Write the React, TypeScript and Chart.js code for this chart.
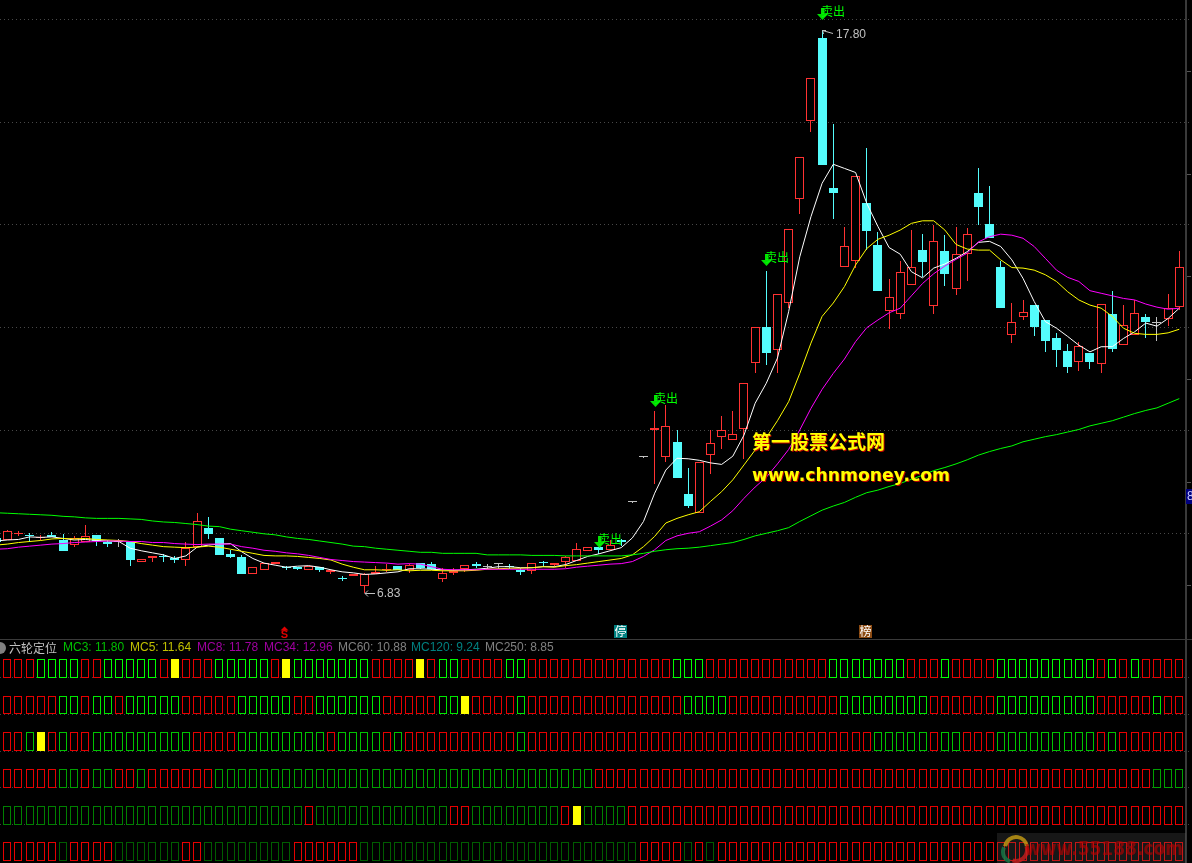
import React, { useEffect, useRef } from "react";
import { Chart, registerables } from "chart.js";

Chart.register(...registerables);

// Candles. Position 0 is the candle that is cut off by the left edge.
const opens = [7.90,
  7.87,7.98,7.97,7.91,7.96,7.87,7.78,7.83,7.97,7.84,
  7.84,7.84,7.44,7.51,7.54,7.51,7.49,7.73,8.10,7.91,
  7.60,7.54,7.21,7.29,7.41,7.35,7.34,7.29,7.34,7.25,
  7.13,7.16,6.98,7.21,7.29,7.36,7.29,7.42,7.40,7.12,
  7.22,7.31,7.40,7.35,7.40,7.36,7.29,7.27,7.44,7.39,
  7.45,7.47,7.66,7.73,7.68,7.86,8.60,9.48,10.00,9.49,
  9.78,8.77,8.40,9.53,9.88,9.82,10.02,11.31,12.01,11.56,
  12.49,14.50,16.02,17.64,14.71,13.18,13.29,14.43,13.60,12.32,
  12.26,12.84,13.51,12.42,13.49,12.75,13.43,14.62,14.02,13.18,
  11.86,12.20,12.44,12.15,11.80,11.55,11.33,11.51,11.29,12.27,
  11.66,11.86,12.20,12.10,12.16,12.40];
const closes = [7.84,
  8.04,8.01,7.95,7.92,7.92,7.65,7.90,7.94,7.85,7.80,
  7.84,7.48,7.50,7.55,7.53,7.49,7.71,8.23,7.99,7.58,
  7.54,7.21,7.34,7.42,7.44,7.32,7.31,7.36,7.29,7.29,
  7.12,7.21,7.21,7.24,7.31,7.28,7.38,7.33,7.31,7.22,
  7.27,7.38,7.37,7.35,7.40,7.35,7.25,7.42,7.42,7.42,
  7.53,7.69,7.73,7.68,7.77,7.84,8.60,9.48,10.04,10.08,
  9.08,8.53,9.38,9.75,10.00,9.93,10.92,12.01,11.51,12.65,
  13.93,15.32,16.85,15.17,14.63,13.58,14.95,13.89,12.72,12.59,
  13.08,13.19,13.27,13.68,13.05,13.43,13.82,14.35,13.75,12.39,
  12.12,12.30,12.02,11.75,11.57,11.24,11.64,11.34,12.46,11.59,
  12.05,12.28,12.12,12.10,12.39,13.18];
const highs = [7.95,
  8.06,8.05,8.00,7.97,8.02,7.99,7.94,8.16,7.97,7.87,
  7.89,7.84,7.50,7.55,7.59,7.56,7.83,8.39,8.31,7.91,
  7.67,7.58,7.34,7.42,7.44,7.36,7.34,7.36,7.34,7.29,
  7.17,7.21,7.23,7.36,7.40,7.36,7.40,7.43,7.44,7.32,
  7.33,7.38,7.44,7.40,7.40,7.40,7.32,7.42,7.46,7.43,
  7.56,7.81,7.73,7.73,7.87,7.88,8.60,9.48,10.38,10.50,
  10.01,9.28,9.38,10.01,10.28,10.38,10.92,12.01,13.10,12.65,
  13.93,15.32,16.85,17.80,15.96,13.95,14.95,15.50,13.86,12.95,
  13.30,13.90,13.82,14.00,13.80,13.95,13.94,15.11,14.76,13.30,
  12.48,12.54,12.44,12.15,11.89,11.68,11.72,11.51,12.46,12.71,
  12.44,12.54,12.27,12.20,12.65,13.49];
const lows = [7.80,
  7.87,7.95,7.84,7.86,7.92,7.65,7.73,7.83,7.75,7.73,
  7.73,7.36,7.44,7.44,7.45,7.42,7.36,7.73,7.89,7.58,
  7.51,7.21,7.21,7.29,7.41,7.29,7.29,7.29,7.25,7.21,
  7.07,7.16,6.83,7.21,7.25,7.28,7.23,7.31,7.29,7.06,
  7.18,7.25,7.33,7.30,7.31,7.31,7.18,7.21,7.35,7.36,
  7.32,7.47,7.65,7.60,7.68,7.75,8.60,9.48,8.96,9.39,
  9.08,8.49,8.40,9.15,9.64,9.82,9.45,11.11,11.28,11.11,
  12.38,14.22,15.81,15.17,14.12,13.18,13.16,13.51,12.72,11.97,
  12.17,12.84,12.98,12.27,12.81,12.63,12.91,13.99,13.75,12.39,
  11.71,12.15,11.83,11.53,11.24,11.11,11.15,11.20,11.11,11.53,
  11.66,11.85,11.79,11.75,12.04,12.35];

// Moving averages
const maWhite = [7.85,
  7.87,7.88,7.93,7.92,7.93,7.90,7.87,7.88,7.86,7.85,
  7.84,7.71,7.66,7.62,7.58,7.51,7.56,7.73,7.77,7.79,
  7.80,7.64,7.51,7.42,7.38,7.34,7.36,7.37,7.34,7.29,
  7.25,7.23,7.20,7.21,7.23,7.25,7.31,7.31,7.30,7.29,
  7.28,7.29,7.30,7.32,7.35,7.35,7.33,7.33,7.35,7.35,
  7.39,7.47,7.55,7.60,7.66,7.72,7.91,8.23,8.78,9.23,
  9.46,9.45,9.42,9.37,9.34,9.50,9.91,10.53,10.92,11.41,
  12.31,13.38,14.16,14.81,15.18,15.10,15.02,14.42,13.97,13.56,
  13.43,13.09,12.97,13.16,13.24,13.35,13.48,13.66,13.68,13.58,
  13.32,12.96,12.51,12.12,11.99,11.83,11.66,11.53,11.63,11.63,
  11.79,11.92,12.09,12.03,12.18,12.38];
const maYellow = [7.77,
  7.79,7.82,7.84,7.86,7.89,7.90,7.89,7.90,7.88,7.87,
  7.86,7.84,7.80,7.77,7.74,7.73,7.72,7.73,7.75,7.73,
  7.69,7.65,7.61,7.57,7.56,7.56,7.55,7.53,7.51,7.48,
  7.40,7.34,7.29,7.29,7.28,7.29,7.27,7.28,7.28,7.27,
  7.27,7.27,7.28,7.30,7.31,7.32,7.32,7.33,7.35,7.34,
  7.37,7.39,7.42,7.45,7.48,7.51,7.58,7.74,7.94,8.20,
  8.29,8.36,8.42,8.62,8.81,9.04,9.33,9.62,9.86,10.19,
  10.56,11.11,11.70,12.22,12.48,12.80,13.22,13.54,13.72,13.80,
  13.90,14.03,14.08,14.08,13.90,13.62,13.53,13.51,13.51,13.32,
  13.17,13.16,13.12,13.03,12.90,12.70,12.54,12.44,12.38,12.22,
  11.99,11.89,11.87,11.87,11.90,11.97];
const maMagenta = [7.69,
  7.70,7.73,7.75,7.77,7.79,7.80,7.82,7.83,7.84,7.85,
  7.85,7.84,7.84,7.82,7.82,7.80,7.79,7.78,7.79,7.79,
  7.79,7.74,7.71,7.67,7.65,7.62,7.60,7.57,7.53,7.49,
  7.47,7.45,7.44,7.43,7.42,7.40,7.41,7.40,7.35,7.30,
  7.29,7.29,7.29,7.30,7.30,7.30,7.30,7.30,7.30,7.30,
  7.31,7.34,7.36,7.38,7.40,7.41,7.45,7.55,7.68,7.86,
  7.95,8.00,8.03,8.14,8.26,8.44,8.68,8.90,9.09,9.35,
  9.63,10.01,10.43,10.80,11.11,11.39,11.73,12.00,12.15,12.29,
  12.38,12.62,12.86,13.05,13.20,13.33,13.45,13.67,13.77,13.82,
  13.80,13.74,13.58,13.35,13.12,12.98,12.90,12.72,12.67,12.62,
  12.57,12.54,12.46,12.40,12.36,12.38];
const maGreen = [8.40,
  8.39,8.38,8.37,8.36,8.35,8.33,8.32,8.30,8.29,8.29,
  8.29,8.28,8.27,8.24,8.22,8.21,8.19,8.17,8.14,8.13,
  8.08,8.05,8.02,7.99,7.97,7.93,7.90,7.88,7.85,7.82,
  7.79,7.75,7.74,7.71,7.69,7.67,7.65,7.63,7.63,7.61,
  7.61,7.61,7.61,7.58,7.58,7.58,7.58,7.57,7.57,7.57,
  7.56,7.56,7.56,7.56,7.56,7.56,7.58,7.61,7.65,7.68,
  7.70,7.71,7.73,7.76,7.79,7.82,7.88,7.95,8.00,8.05,
  8.11,8.23,8.34,8.45,8.53,8.60,8.70,8.79,8.84,8.91,
  8.97,9.05,9.13,9.22,9.28,9.35,9.43,9.52,9.59,9.65,
  9.70,9.78,9.83,9.88,9.92,9.97,10.02,10.09,10.14,10.19,
  10.26,10.33,10.39,10.44,10.53,10.62];

// Signal rows: r = red box, g = green box, Y = solid yellow box
const signalRow1 = "rrrggggrrgggggrYrrrgggggrYgggggggrrr" + "rYrggrrrrggrrrrrrrrrrrrrgggrrrrrrrr" + "rrrgggggggrrrgrrrrgggggggggrgrgrrrr";
const signalRow2 = "rrrrrggrggrgggggrrrrrgggggrrggggggrr" + "rrrggYrrrrgrrrrrrrrrrrrrrggggrrrrrr" + "rrrrggggggggrrrrrrgggggggggrrrrrgrr";
const signalRow3 = "rrgYrgrrgggggggggrrrrggggggggrggggrg" + "rrrrrrrrrrgrrrrrrrrrrrrrrrrrrrrrrrr" + "rrrrrrrgggggrggrrrgggggggggrgrrrrrr";
const signalRow4 = "rrrrrggrggrrgrrrrrrggggggggggggggggg" + "gggggggggggggggggrrrrrrrrrrrrrrrrrr" + "rrrrrrrrrrrrrrrrrrrrrrrrrrrrrrrrggg";
const signalRow5 = "gggggggggggggggggggggggggggrgggggggg" + "ggggrrggggggggrYggggrrrrrrrrrrrrrrr" + "rrrrrrrrrrrrrrrrrrrrrrrrrrrrrrrrrrr";
const signalRow6 = "rrrrrgrrrrggggggrrggggggggrrrrrrgggg" + "gggggggggggggggggggggrrrrgrgrrrrrrr" + "rrrrrrrrrrrrrrrrrrrrrrrrrrrrrrrrrrr";
const signalRows = [signalRow1, signalRow2, signalRow3, signalRow4, signalRow5, signalRow6];
const rowGreens = ["#00ff00", "#00e800", "#00c400", "#00a000", "#008000", "#005c00"];

const priceTicks = [8, 10, 12, 14, 16, 18];
const priceMinorTicks = [7, 9, 11, 13, 15, 17];
const rowTicks = [2, 3, 4, 5, 6];
const sellPositions = [54, 59, 69, 74];
const sellLabelGaps = [8, 13, 14, 19];
const sellLabel = "卖出";
const highPosition = 74;
const highLabel = "17.80";
const lowPosition = 33;
const lowLabel = "6.83";
const title = "六轮定位";
const legendTexts = ["MC3: 11.80", "MC5: 11.64", "MC8: 11.78", "MC34: 12.96", "MC60: 10.88", "MC120: 9.24", "MC250: 8.85"];
const legendColors = ["#00c000", "#c0c000", "#a000a0", "#a000a0", "#808080", "#008080", "#808080"];
const legendLefts = [63, 130, 197, 264, 338, 411, 485];

const RED = "#ff3232";
const CYAN = "#54fcfc";
const GRAY = "#c0c0c0";

const candleColor = (k: number) =>
  closes[k] > opens[k] ? RED : closes[k] < opens[k] ? CYAN : GRAY;

const sans = '"Liberation Sans", "Noto Sans CJK SC", sans-serif';
const cjk = '"Noto Sans CJK SC", sans-serif';

const decoration = {
  id: "decoration",
  beforeDatasetsDraw(chart: any) {
    // keep the bars on whole pixels, like the original terminal does
    chart.getSortedVisibleDatasetMetas().forEach((meta: any) => {
      if (meta.type !== "bar") return;
      meta.data.forEach((el: any) => {
        const odd = Math.round(el.width) % 2 === 1;
        el.x = odd ? Math.round(el.x - 0.5) + 0.5 : Math.round(el.x);
        el.y = Math.round(el.y);
        el.base = Math.round(el.base);
        if (el.y === el.base) el.base = el.y + 1;
      });
    });
  },
  afterDatasetsDraw(chart: any) {
    const { ctx, scales } = chart;
    const x = scales.x;
    const y = scales.y;
    ctx.save();

    // panel frame
    ctx.fillStyle = "#3a3a3a";
    ctx.fillRect(0, 639, 1192, 1);
    ctx.fillStyle = "#3a3a3a";
    ctx.fillRect(1185, 0, 2, 863);
    ctx.fillStyle = "#555555";
    priceMinorTicks.forEach((v) => ctx.fillRect(1187, Math.round(y.getPixelForValue(v)), 4, 1));

    // header
    ctx.textBaseline = "middle";
    ctx.textAlign = "left";
    ctx.fillStyle = "#808080";
    ctx.beginPath();
    ctx.arc(0, 648, 6, 0, Math.PI * 2);
    ctx.fill();
    ctx.fillStyle = "#c0c0c0";
    ctx.font = "12px " + cjk;
    ctx.fillText(title, 9, 648);
    ctx.font = "12px " + sans;
    legendTexts.forEach((t, i) => {
      ctx.fillStyle = legendColors[i];
      ctx.fillText(t, legendLefts[i], 648);
    });

    // sell arrows
    sellPositions.forEach((k, i) => {
      const px = Math.round(x.getPixelForValue(k));
      const mid = Math.round(y.getPixelForValue(highs[k])) - sellLabelGaps[i];
      ctx.fillStyle = "#00e000";
      ctx.fillRect(px - 1, mid - 3, 3, 7);
      ctx.beginPath();
      ctx.moveTo(px - 5, mid + 3);
      ctx.lineTo(px + 6, mid + 3);
      ctx.lineTo(px + 0.5, mid + 9);
      ctx.closePath();
      ctx.fill();
      ctx.fillStyle = "#00ff00";
      ctx.font = "12px " + cjk;
      ctx.fillText(sellLabel, px - 1, mid);
    });

    // high and low notes
    ctx.strokeStyle = "#c0c0c0";
    ctx.fillStyle = "#c0c0c0";
    ctx.lineWidth = 1;
    const hx = Math.round(x.getPixelForValue(highPosition));
    const hy = Math.round(y.getPixelForValue(highs[highPosition]));
    ctx.beginPath();
    ctx.moveTo(hx + 0.5, hy + 0.5);
    ctx.lineTo(hx + 11, hy + 3.5);
    ctx.moveTo(hx + 0.5, hy + 0.5);
    ctx.lineTo(hx + 4, hy + 0.5);
    ctx.moveTo(hx + 0.5, hy + 0.5);
    ctx.lineTo(hx + 1.5, hy + 4);
    ctx.stroke();
    ctx.font = "12px " + sans;
    ctx.fillText(highLabel, hx + 14, hy + 5);
    const lx = Math.round(x.getPixelForValue(lowPosition));
    const ly = Math.round(y.getPixelForValue(lows[lowPosition]));
    ctx.beginPath();
    ctx.moveTo(lx + 1, ly + 0.5);
    ctx.lineTo(lx + 11, ly + 0.5);
    ctx.moveTo(lx + 1, ly + 0.5);
    ctx.lineTo(lx + 4, ly - 2.5);
    ctx.moveTo(lx + 1, ly + 0.5);
    ctx.lineTo(lx + 4, ly + 3.5);
    ctx.stroke();
    ctx.fillText(lowLabel, lx + 13, ly + 1);

    // event marks above the separator
    ctx.fillStyle = "#e00000";
    ctx.beginPath();
    ctx.moveTo(284.5, 626.5);
    ctx.lineTo(280.5, 630.5);
    ctx.lineTo(288.5, 630.5);
    ctx.closePath();
    ctx.fill();
    ctx.textAlign = "center";
    ctx.font = "bold 11px " + sans;
    ctx.fillText("S", 284.5, 635);
    ctx.fillStyle = "#008080";
    ctx.fillRect(614, 625, 13, 13);
    ctx.fillStyle = "#8b4a12";
    ctx.fillRect(859, 625, 13, 13);
    ctx.fillStyle = "#ffffff";
    ctx.font = "12px " + cjk;
    ctx.fillText("停", 620.5, 631.5);
    ctx.fillText("榜", 865.5, 631.5);
    ctx.textAlign = "left";

    // scale flag
    ctx.fillStyle = "#000080";
    ctx.fillRect(1186, 489, 6, 15);
    ctx.fillStyle = "#c8c8ff";
    ctx.font = "12px " + sans;
    ctx.fillText("8", 1187, 497);

    // yellow site name
    const drawShadowed = (t: string, px: number, py: number, font: string, w: number) => {
      ctx.font = font;
      ctx.fillStyle = "#c00000";
      ctx.fillText(t, px + 1, py + 1, w);
      ctx.fillStyle = "#ffff00";
      ctx.fillText(t, px, py, w);
    };
    drawShadowed("第一股票公式网", 752, 442, "bold 19px " + cjk, 134);
    drawShadowed("www.chnmoney.com", 752, 477, 'bold 17.3px "DejaVu Sans"', 198);

    // corner watermark
    ctx.fillStyle = "rgba(90,90,90,0.25)";
    ctx.fillRect(997, 833, 189, 30);
    ctx.lineWidth = 4;
    ctx.strokeStyle = "rgba(190,150,20,0.85)";
    ctx.beginPath();
    ctx.arc(1016, 848, 11, Math.PI * 1.05, Math.PI * 1.95);
    ctx.stroke();
    ctx.strokeStyle = "rgba(200,30,30,0.8)";
    ctx.beginPath();
    ctx.arc(1016, 850, 11, -0.3, Math.PI * 0.6);
    ctx.stroke();
    ctx.strokeStyle = "rgba(20,120,70,0.85)";
    ctx.beginPath();
    ctx.arc(1013, 852, 10, Math.PI * 0.6, Math.PI * 1.15);
    ctx.stroke();
    ctx.fillStyle = "rgba(190,0,0,0.6)";
    ctx.font = 'bold 20px "DejaVu Sans"';
    ctx.fillText("www.55188.com", 1025, 850, 158);

    ctx.restore();
  },
};

export default function App() {
  const ref = useRef<HTMLCanvasElement>(null);

  useEffect(() => {
    document.body.style.margin = "0";
    document.body.style.background = "#000";
    const at = (values: number[]) => values.map((v, k) => ({ x: k, y: v }));
    const lineSet = (values: number[], color: string) => ({
      type: "line",
      data: at(values),
      borderColor: color,
      borderWidth: 1,
      pointRadius: 0,
      tension: 0,
      order: 0,
      yAxisID: "y",
    });
    const barBase = { grouped: false, inflateAmount: 0, borderSkipped: false, clip: false };

    const signalSets = signalRows.map((row, r) => {
      const level = 6 - r;
      const codes = row.split("");
      return {
        ...barBase,
        type: "bar",
        yAxisID: "y2",
        order: 3,
        barThickness: 8,
        borderWidth: 1,
        data: codes.map((_, i) => ({ x: i + 1, y: [level, level + 0.51] })),
        borderColor: codes.map((c) => (c === "g" ? rowGreens[r] : c === "Y" ? "#ffff00" : "#e60000")),
        backgroundColor: codes.map((c) => (c === "Y" ? "#ffff00" : "#000000")),
      };
    });

    const chart = new Chart(ref.current as HTMLCanvasElement, {
      data: {
        datasets: [
          lineSet(maGreen, "#00ff00"),
          lineSet(maMagenta, "#ff00ff"),
          lineSet(maYellow, "#ffff00"),
          lineSet(maWhite, "#ffffff"),
          {
            ...barBase,
            type: "bar",
            yAxisID: "y",
            order: 1,
            barThickness: 9,
            minBarLength: 1,
            borderWidth: 1,
            data: opens.map((o, k) => ({ x: k, y: [Math.min(o, closes[k]), Math.max(o, closes[k])] })),
            borderColor: opens.map((_, k) => candleColor(k)),
            backgroundColor: opens.map((_, k) => (closes[k] > opens[k] ? "#000000" : candleColor(k))),
          },
          {
            ...barBase,
            type: "bar",
            yAxisID: "y",
            order: 2,
            barThickness: 1,
            borderWidth: 0,
            data: lows.map((l, k) => ({ x: k, y: [l, highs[k]] })),
            backgroundColor: opens.map((_, k) => candleColor(k)),
          },
          ...signalSets,
        ] as any,
      },
      options: {
        responsive: false,
        animation: false,
        devicePixelRatio: 1,
        events: [],
        layout: { padding: 0 },
        plugins: { legend: { display: false }, tooltip: { enabled: false } },
        scales: {
          x: { type: "linear", display: false, offset: false, min: 0.346, max: 107.14 },
          y: {
            type: "linear",
            position: "left",
            min: 1.585,
            max: 18.376,
            border: { display: false, dash: [1, 3] },
            ticks: { display: false },
            grid: { color: "#484848", lineWidth: 1, drawTicks: false } as any,
            afterBuildTicks: (s: any) => {
              s.ticks = priceTicks.map((value) => ({ value }));
            },
            afterFit: (s: any) => {
              s.width = 0;
            },
          },
          y2: {
            type: "linear",
            position: "left",
            min: 0.951,
            max: 24.466,
            border: { display: false, dash: [1, 3] },
            ticks: { display: false },
            grid: { color: "#404040", lineWidth: 1, drawTicks: false } as any,
            afterBuildTicks: (s: any) => {
              s.ticks = rowTicks.map((value) => ({ value }));
            },
            afterFit: (s: any) => {
              s.width = 0;
            },
          },
        },
      } as any,
      plugins: [decoration],
    } as any);
    return () => chart.destroy();
  }, []);

  return (
    <div style={{ position: "fixed", left: 0, top: 0, width: 1192, height: 863, background: "#000" }}>
      <canvas ref={ref} width={1192} height={863} style={{ display: "block" }} />
    </div>
  );
}
